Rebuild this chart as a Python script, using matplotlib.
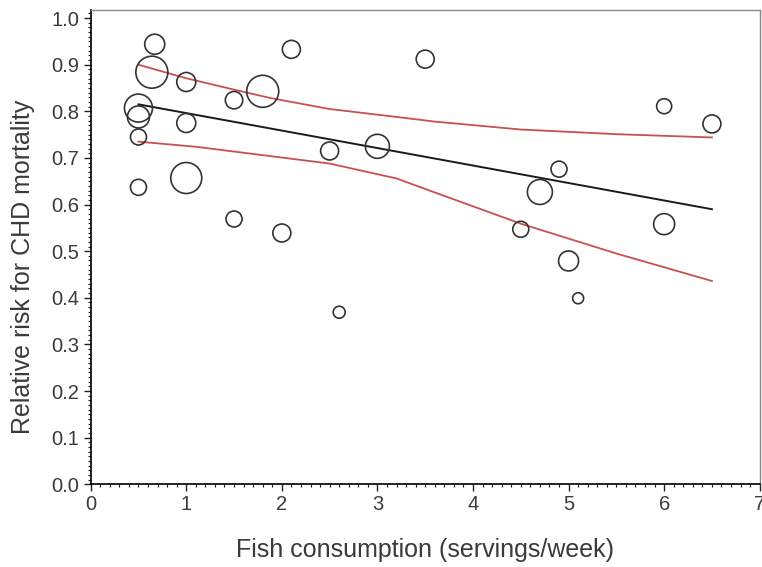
import matplotlib
matplotlib.use('Agg')
import matplotlib.pyplot as plt
from matplotlib.ticker import MultipleLocator

plt.rcParams['font.family'] = ['Liberation Sans', 'DejaVu Sans']

# studies: fish servings/week, relative risk, bubble radius (weight)
fish = [0.67, 0.64, 0.5, 0.5, 0.5, 0.5, 1.0, 1.0, 1.0, 1.5, 1.8, 1.5, 2.1,
        2.0, 2.5, 2.6, 3.0, 3.5, 4.5, 4.9, 4.7, 5.0, 5.1, 6.0, 6.0, 6.5]
rr = [0.944, 0.884, 0.807, 0.788, 0.745, 0.637, 0.863, 0.775, 0.657, 0.824,
      0.843, 0.569, 0.933, 0.539, 0.715, 0.369, 0.725, 0.912, 0.547, 0.676,
      0.627, 0.479, 0.399, 0.811, 0.558, 0.773]
weight = [10, 16, 14, 11, 8, 8, 9.5, 9.5, 15.5, 8.7, 16, 8, 9, 9, 9, 6, 12,
          9, 8, 8, 12.5, 10, 5.5, 7.5, 10.5, 9]

# fitted line and 95% band
fit_x = [0.5, 6.5]
fit_y = [0.815, 0.590]
upper_x = [0.5, 1.0, 1.45, 1.87, 2.5, 3.2, 3.6, 4.5, 5.5, 6.5]
upper = [0.900, 0.871, 0.849, 0.829, 0.805, 0.788, 0.778, 0.761, 0.751, 0.744]
lower_x = [0.5, 1.1, 1.8, 2.5, 3.2, 3.6, 4.5, 5.5, 6.5]
lower = [0.735, 0.724, 0.706, 0.688, 0.656, 0.626, 0.559, 0.495, 0.436]

fig = plt.figure(figsize=(7.62, 5.67), dpi=100)
ax = fig.add_axes([0.119, 0.146, 0.878, 0.836])

sizes = [(1.44 * r) ** 2 for r in weight]
ax.scatter(fish, rr, s=sizes, facecolors='none', edgecolors='#333333',
           linewidths=1.2, zorder=3)
ax.plot(fit_x, fit_y, color='#1a1a1a', lw=1.4, zorder=2)
ax.plot(upper_x, upper, color='#c85050', lw=1.3, zorder=2)
ax.plot(lower_x, lower, color='#c85050', lw=1.3, zorder=2)

ax.set_xlim(0, 7)
ax.set_ylim(0, 1.017)
ax.xaxis.set_major_locator(MultipleLocator(1))
ax.xaxis.set_minor_locator(MultipleLocator(0.1))
ax.yaxis.set_major_locator(MultipleLocator(0.1))
ax.yaxis.set_minor_locator(MultipleLocator(0.01))
ax.yaxis.set_major_formatter(matplotlib.ticker.FormatStrFormatter('%.1f'))
ax.tick_params(which='major', length=5, width=1, labelsize=14.5,
               labelcolor='#3a3a3a', color='#222222', pad=3)
ax.tick_params(which='minor', length=2.5, width=0.8, color='#222222')

for s in ['top', 'right']:
    ax.spines[s].set_color('#888888')
    ax.spines[s].set_linewidth(1)
ax.spines['left'].set_linewidth(1.2)
ax.spines['bottom'].set_linewidth(1.2)

ax.set_xlabel('Fish consumption (servings/week)', fontsize=18,
              color='#3a3a3a', labelpad=17)
ax.set_ylabel('Relative risk for CHD mortality', fontsize=18,
              color='#3a3a3a', labelpad=12)
ax.yaxis.label.set_y(0.459)

fig.savefig('out.png', dpi=100)
